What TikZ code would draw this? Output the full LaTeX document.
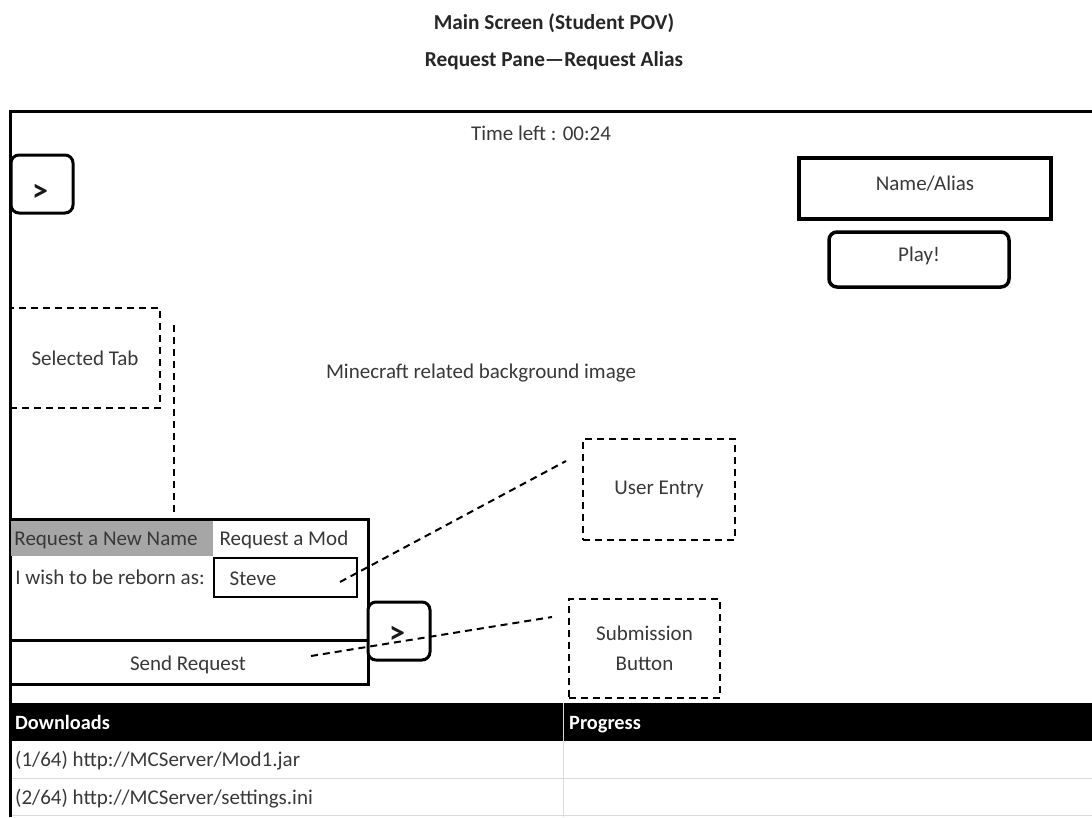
\documentclass[tikz,border=0pt]{standalone}
\usepackage{fontspec}
\setmainfont{Carlito}
\begin{document}
\begin{tikzpicture}[x=1pt,y=-1pt,
  every node/.style={inner sep=0pt, text=black!78, font=\fontsize{21}{25}\selectfont},
  titletext/.style={font=\bfseries\fontsize{21.3}{25}\selectfont, text=black!85},
  thickbox/.style={draw=black, line width=3pt},
  roundbtn/.style={thickbox, rounded corners=8pt},
  notebox/.style={draw=black, line width=2pt, dash pattern=on 7pt off 5pt},
  noteline/.style={draw=black, line width=2pt, dash pattern=on 7pt off 5pt},
  arrowtxt/.style={font=\bfseries\fontsize{32}{32}\selectfont, text=black!90},
  headtxt/.style={font=\bfseries\fontsize{20.3}{24}\selectfont, text=white, anchor=base west},
  rowtxt/.style={anchor=base west},
  gridline/.style={draw=black!15, line width=0.8pt}
]
\useasboundingbox (0,0) rectangle (1092,817);

% headings
\node[titletext] (title) at (554,23) {Main Screen (Student POV)};
\node[titletext] (subtitle) at (554,61) {Request Pane—Request Alias};

% screen frame
\draw[line width=3pt] (10,817) -- (10,111) -- (1092,111);

\node (timer) at (541,133) {Time left : 00:24};

% collapse button and login area
\node[roundbtn, minimum width=62pt, minimum height=58pt] (back) at (42,184) {};
\node[arrowtxt] (backsym) at (40,193) {>};
\node[draw=black, line width=4pt, minimum width=252pt, minimum height=61pt, text depth=10pt] (alias) at (925,188.5) {Name/Alias};
\node[roundbtn, line width=3.5pt, minimum width=180pt, minimum height=55pt, text depth=10pt] (play) at (919,259.5) {Play!};

\node (bg) at (481,373) {Minecraft related background image};

% annotations
\node[notebox, minimum width=150pt, minimum height=100pt] (seltab) at (85,358) {Selected Tab};
\node[notebox, minimum width=152pt, minimum height=101pt] (entry) at (659,489.5) {User Entry};
\node[notebox, minimum width=151pt, minimum height=99pt, align=center, font=\fontsize{21}{30}\selectfont] (submit) at (644.5,648) {Submission\\Button};

% request pane
\node[thickbox, minimum width=358pt, minimum height=165pt] (pane) at (189,601.5) {};
\node[fill=black!35, minimum width=202pt, minimum height=35pt] (tabname) at (112,538.5) {};
\node (tabnametxt) at (106,540) {Request a New Name};
\node (tabmod) at (284,540) {Request a Mod};
\node (prompt) at (110,577) {I wish to be reborn as:};
\node[draw=black, line width=1.5pt, minimum width=143pt, minimum height=39pt] (steve) at (285.5,577.5) {};
\node (stevetxt) at (253,579) {Steve};
\draw[line width=3pt] (10,640.5) -- (367,640.5);
\node (send) at (188,665) {Send Request};
\node[roundbtn, minimum width=62pt, minimum height=58pt, fill=white] (next) at (399,631) {};
\node[arrowtxt] (nextsym) at (397,635) {>};

% annotation connectors
\coordinate (tabtop) at (174,325);
\coordinate (tabbot) at (174,512);
\draw[noteline] (tabtop) -- (tabbot);
\coordinate (entryfrom) at (340,582);
\coordinate (entryto) at (566,461);
\draw[noteline] (entryfrom) -- (entryto);
\coordinate (submitfrom) at (311,656);
\coordinate (submitto) at (552,617);
\draw[noteline] (submitfrom) -- (submitto);

% download table
\fill[black] (11.5,703) rectangle (1092,741);
\draw[gridline] (563,703) -- (563,817);
\draw[gridline] (11.5,778.5) -- (1092,778.5);
\draw[gridline] (11.5,815.5) -- (1092,815.5);
\node[headtxt] (dlhead) at (15,729) {Downloads};
\node[headtxt] (proghead) at (569,729) {Progress};
\node[rowtxt] (row1) at (15,766) {(1/64) http://MCServer/Mod1.jar};
\node[rowtxt] (row2) at (15,804) {(2/64) http://MCServer/settings.ini};
\end{tikzpicture}
\end{document}
